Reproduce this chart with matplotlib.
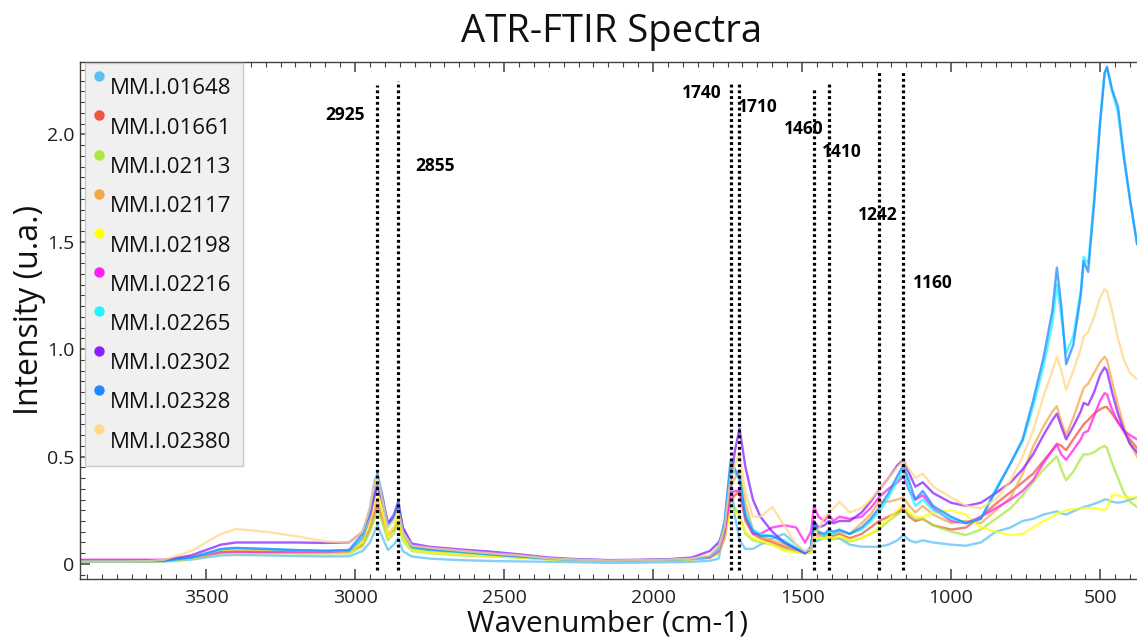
import matplotlib
matplotlib.use("Agg")
import matplotlib.pyplot as plt
from matplotlib.patches import Rectangle
from matplotlib.ticker import MultipleLocator, FixedLocator

plt.rcParams['font.family'] = ['Open Sans', 'DejaVu Sans']

# wavenumber grid (cm-1)
wavenumber = [3923, 3800, 3700, 3640, 3550,
              3450, 3400, 3300, 3200, 3100,
              3020, 2975, 2950, 2935, 2925,
              2910, 2890, 2870, 2855, 2840,
              2810, 2750, 2650, 2550, 2450,
              2350, 2250, 2150, 2050, 1950,
              1870, 1810, 1780, 1760, 1740,
              1725, 1710, 1690, 1665, 1640,
              1600, 1560, 1520, 1490, 1470,
              1460, 1445, 1425, 1410, 1395,
              1375, 1340, 1300, 1270, 1242,
              1210, 1180, 1160, 1140, 1120,
              1095, 1060, 1000, 950, 900,
              850, 800, 760, 725, 690,
              660, 645, 630, 614, 590,
              565, 555, 540, 520, 500,
              485, 477, 460, 440, 420,
              400, 376]

mm_01648 = [0.01, 0.01, 0.01, 0.011, 0.02,
            0.04, 0.042, 0.04, 0.037, 0.035,
            0.036, 0.06, 0.10, 0.15, 0.18,
            0.13, 0.065, 0.09, 0.12, 0.06,
            0.035, 0.025, 0.018, 0.014, 0.012,
            0.01, 0.008, 0.005, 0.006, 0.008,
            0.01, 0.015, 0.025, 0.15, 0.40,
            0.22, 0.11, 0.07, 0.07, 0.09,
            0.12, 0.14, 0.09, 0.055, 0.06,
            0.10, 0.11, 0.12, 0.12, 0.12,
            0.12, 0.09, 0.08, 0.08, 0.08,
            0.09, 0.11, 0.135, 0.11, 0.10,
            0.11, 0.10, 0.09, 0.085, 0.10,
            0.15, 0.17, 0.20, 0.21, 0.23,
            0.24, 0.245, 0.235, 0.23, 0.245,
            0.26, 0.265, 0.27, 0.28, 0.29,
            0.30, 0.30, 0.29, 0.285, 0.29,
            0.30, 0.31]

mm_01661 = [0.013, 0.013, 0.013, 0.015, 0.026,
            0.055, 0.058, 0.055, 0.055, 0.055,
            0.057, 0.09, 0.16, 0.23, 0.27,
            0.22, 0.13, 0.16, 0.20, 0.12,
            0.07, 0.06, 0.05, 0.04, 0.032,
            0.023, 0.018, 0.015, 0.016, 0.018,
            0.022, 0.03, 0.055, 0.12, 0.30,
            0.32, 0.34, 0.20, 0.14, 0.12,
            0.10, 0.08, 0.06, 0.05, 0.06,
            0.20, 0.14, 0.13, 0.13, 0.13,
            0.14, 0.12, 0.14, 0.17, 0.20,
            0.22, 0.24, 0.26, 0.22, 0.20,
            0.21, 0.18, 0.16, 0.17, 0.22,
            0.28, 0.335, 0.38, 0.42, 0.48,
            0.53, 0.56, 0.55, 0.53, 0.58,
            0.63, 0.65, 0.67, 0.70, 0.72,
            0.73, 0.73, 0.70, 0.66, 0.62,
            0.58, 0.54]

mm_02113 = [0.012, 0.012, 0.012, 0.013, 0.024,
            0.05, 0.05, 0.05, 0.049, 0.048,
            0.05, 0.08, 0.15, 0.21, 0.25,
            0.20, 0.11, 0.14, 0.19, 0.11,
            0.06, 0.05, 0.04, 0.035, 0.03,
            0.022, 0.018, 0.015, 0.016, 0.018,
            0.022, 0.028, 0.05, 0.12, 0.28,
            0.26, 0.23, 0.14, 0.11, 0.10,
            0.09, 0.07, 0.055, 0.05, 0.055,
            0.12, 0.12, 0.12, 0.12, 0.115,
            0.12, 0.105, 0.12, 0.14, 0.16,
            0.20, 0.23, 0.25, 0.23, 0.21,
            0.21, 0.18, 0.15, 0.135, 0.16,
            0.21, 0.26, 0.32, 0.38, 0.44,
            0.48, 0.50, 0.44, 0.39, 0.43,
            0.49, 0.51, 0.51, 0.52, 0.54,
            0.55, 0.54, 0.47, 0.40, 0.33,
            0.29, 0.265]

mm_02117 = [0.012, 0.012, 0.012, 0.014, 0.027,
            0.06, 0.065, 0.062, 0.06, 0.058,
            0.06, 0.10, 0.18, 0.26, 0.30,
            0.24, 0.14, 0.17, 0.22, 0.13,
            0.07, 0.06, 0.05, 0.04, 0.032,
            0.023, 0.018, 0.015, 0.016, 0.018,
            0.022, 0.03, 0.065, 0.14, 0.36,
            0.40, 0.44, 0.28, 0.16, 0.13,
            0.11, 0.09, 0.065, 0.05, 0.06,
            0.14, 0.13, 0.13, 0.14, 0.14,
            0.15, 0.14, 0.19, 0.23, 0.29,
            0.29, 0.30, 0.31, 0.27, 0.24,
            0.27, 0.23, 0.19, 0.20, 0.19,
            0.25, 0.31, 0.42, 0.545, 0.64,
            0.71, 0.735, 0.66, 0.60, 0.68,
            0.78, 0.82, 0.84, 0.89, 0.94,
            0.965, 0.95, 0.85, 0.74, 0.64,
            0.56, 0.50]

mm_02198 = [0.012, 0.012, 0.012, 0.014, 0.027,
            0.06, 0.063, 0.06, 0.057, 0.055,
            0.057, 0.10, 0.20, 0.30, 0.34,
            0.26, 0.13, 0.17, 0.22, 0.12,
            0.065, 0.055, 0.045, 0.038, 0.03,
            0.022, 0.018, 0.015, 0.016, 0.018,
            0.022, 0.03, 0.06, 0.13, 0.25,
            0.24, 0.22, 0.15, 0.12, 0.11,
            0.09, 0.06, 0.055, 0.05, 0.055,
            0.12, 0.12, 0.12, 0.13, 0.12,
            0.13, 0.11, 0.12, 0.14, 0.17,
            0.21, 0.25, 0.275, 0.24, 0.22,
            0.22, 0.24, 0.25, 0.23, 0.17,
            0.15, 0.135, 0.14, 0.17, 0.20,
            0.22, 0.235, 0.24, 0.25, 0.255,
            0.26, 0.26, 0.26, 0.26, 0.255,
            0.25, 0.26, 0.32, 0.32, 0.31,
            0.31, 0.31]

mm_02216 = [0.02, 0.02, 0.02, 0.02, 0.03,
            0.055, 0.057, 0.056, 0.056, 0.056,
            0.06, 0.12, 0.22, 0.32, 0.38,
            0.32, 0.19, 0.23, 0.29, 0.17,
            0.085, 0.072, 0.06, 0.05, 0.038,
            0.026, 0.02, 0.017, 0.018, 0.02,
            0.025, 0.03, 0.06, 0.14, 0.33,
            0.34, 0.34, 0.22, 0.14, 0.14,
            0.17, 0.18, 0.17, 0.10, 0.15,
            0.27, 0.22, 0.20, 0.23, 0.20,
            0.22, 0.21, 0.22, 0.26, 0.31,
            0.35, 0.38, 0.41, 0.34, 0.30,
            0.32, 0.26, 0.20, 0.19, 0.22,
            0.26, 0.30, 0.34, 0.39, 0.47,
            0.53, 0.555, 0.51, 0.485, 0.53,
            0.58, 0.61, 0.62, 0.69, 0.76,
            0.795, 0.79, 0.72, 0.66, 0.62,
            0.60, 0.58]

mm_02265 = [0.012, 0.012, 0.012, 0.014, 0.028,
            0.068, 0.073, 0.07, 0.064, 0.06,
            0.063, 0.12, 0.23, 0.33, 0.37,
            0.30, 0.17, 0.21, 0.27, 0.15,
            0.075, 0.065, 0.055, 0.045, 0.035,
            0.024, 0.019, 0.016, 0.017, 0.019,
            0.024, 0.032, 0.07, 0.18, 0.45,
            0.42, 0.40, 0.24, 0.16, 0.14,
            0.13, 0.11, 0.075, 0.05, 0.08,
            0.18, 0.15, 0.13, 0.15, 0.14,
            0.155, 0.14, 0.16, 0.20, 0.24,
            0.31, 0.39, 0.44, 0.34, 0.27,
            0.30, 0.25, 0.21, 0.19, 0.21,
            0.35, 0.47, 0.57, 0.73, 0.92,
            1.12, 1.30, 1.15, 0.98, 1.06,
            1.27, 1.43, 1.40, 1.70, 2.07,
            2.29, 2.31, 2.20, 2.10, 1.88,
            1.70, 1.49]

mm_02302 = [0.015, 0.015, 0.015, 0.018, 0.04,
            0.09, 0.10, 0.10, 0.10, 0.098,
            0.10, 0.15, 0.24, 0.32, 0.36,
            0.30, 0.19, 0.22, 0.27, 0.17,
            0.095, 0.08, 0.068, 0.058, 0.045,
            0.03, 0.022, 0.018, 0.019, 0.022,
            0.03, 0.06, 0.10, 0.16, 0.38,
            0.53, 0.63, 0.45, 0.30, 0.22,
            0.15, 0.10, 0.07, 0.05, 0.07,
            0.20, 0.17, 0.18, 0.20, 0.19,
            0.20, 0.20, 0.24, 0.29, 0.345,
            0.40, 0.46, 0.485, 0.42, 0.36,
            0.38, 0.33, 0.285, 0.27, 0.285,
            0.33, 0.38, 0.44, 0.51, 0.60,
            0.67, 0.70, 0.64, 0.58, 0.64,
            0.71, 0.75, 0.74, 0.80, 0.88,
            0.915, 0.90, 0.80, 0.70, 0.62,
            0.56, 0.52]

mm_02328 = [0.013, 0.013, 0.013, 0.015, 0.03,
            0.07, 0.075, 0.07, 0.065, 0.062,
            0.065, 0.14, 0.26, 0.38, 0.42,
            0.33, 0.18, 0.22, 0.29, 0.16,
            0.08, 0.068, 0.058, 0.045, 0.035,
            0.025, 0.02, 0.017, 0.018, 0.02,
            0.025, 0.035, 0.08, 0.20, 0.48,
            0.44, 0.40, 0.22, 0.15, 0.13,
            0.13, 0.10, 0.07, 0.05, 0.08,
            0.19, 0.15, 0.14, 0.16, 0.15,
            0.16, 0.14, 0.17, 0.21, 0.26,
            0.33, 0.41, 0.46, 0.38, 0.30,
            0.34, 0.27, 0.22, 0.19, 0.21,
            0.34, 0.47, 0.58, 0.76, 0.96,
            1.18, 1.38, 1.20, 0.93, 1.02,
            1.25, 1.41, 1.36, 1.68, 2.05,
            2.28, 2.315, 2.21, 2.13, 1.90,
            1.70, 1.49]

mm_02380 = [0.012, 0.012, 0.013, 0.02, 0.06,
            0.14, 0.163, 0.15, 0.13, 0.105,
            0.10, 0.15, 0.26, 0.38, 0.41,
            0.31, 0.17, 0.20, 0.25, 0.15,
            0.085, 0.075, 0.062, 0.05, 0.04,
            0.026, 0.02, 0.016, 0.018, 0.02,
            0.025, 0.04, 0.08, 0.17, 0.40,
            0.46, 0.52, 0.33, 0.22, 0.22,
            0.265, 0.18, 0.09, 0.06, 0.07,
            0.14, 0.16, 0.22, 0.24, 0.26,
            0.29, 0.24, 0.26, 0.30, 0.345,
            0.40, 0.45, 0.48, 0.44, 0.40,
            0.42, 0.36, 0.31, 0.27, 0.26,
            0.30, 0.39, 0.50, 0.62, 0.78,
            0.90, 0.965, 0.90, 0.81, 0.90,
            1.00, 1.06, 1.08, 1.15, 1.24,
            1.28, 1.27, 1.18, 1.05, 0.95,
            0.89, 0.86]

sample_names = ['MM.I.01648', 'MM.I.01661', 'MM.I.02113', 'MM.I.02117', 'MM.I.02198',
                'MM.I.02216', 'MM.I.02265', 'MM.I.02302', 'MM.I.02328', 'MM.I.02380']
sample_colors = ['#5bc0f5', '#ee5544', '#a8e840', '#f5a84a', '#ffff10',
                 '#ff20f0', '#20f5ff', '#8c20ff', '#2088ff', '#ffd888']
spectra = [mm_01648, mm_01661, mm_02113, mm_02117, mm_02198,
           mm_02216, mm_02265, mm_02302, mm_02328, mm_02380]

# marked bands: position, top of dotted line, label position
band_pos = [2925, 2855, 1740, 1710, 1460, 1410, 1242, 1160]
band_top = [2.23, 2.25, 2.24, 2.24, 2.22, 2.24, 2.29, 2.29]
band_label_x = [3034, 2732, 1836, 1648, 1493, 1366, 1245, 1060]
band_label_y = [2.09, 1.854, 2.194, 2.128, 2.026, 1.919, 1.626, 1.309]

W, H = 1137, 642
fig = plt.figure(figsize=(W / 100, H / 100), dpi=100)
ax = fig.add_axes([80 / W, (H - 579) / H, 1063 / W, 517 / H])

for vals, name, col in zip(spectra, sample_names, sample_colors):
    ax.plot(wavenumber, vals, color=col, lw=1.7, alpha=0.75, label=name)

for pos, top in zip(band_pos, band_top):
    ax.plot([pos, pos], [-0.03, top], color='black', lw=2.3,
            linestyle=(0, (0.9, 0.9)), zorder=5)
for lx, ly, pos in zip(band_label_x, band_label_y, band_pos):
    ax.text(lx, ly, str(pos), ha='center', va='center', fontsize=12.5,
            fontweight='bold', color='black', zorder=6)

ax.set_xlim(3923, 356)
ax.set_ylim(-0.07, 2.337)
ax.xaxis.set_major_locator(FixedLocator([3500, 3000, 2500, 2000, 1500, 1000, 500]))
ax.xaxis.set_minor_locator(MultipleLocator(50))
ax.yaxis.set_major_locator(FixedLocator([0, 0.5, 1.0, 1.5, 2.0]))
ax.yaxis.set_minor_locator(MultipleLocator(0.05))
ax.set_yticklabels(['0', '0.5', '1.0', '1.5', '2.0'])
ax.tick_params(which='both', direction='in', top=True, right=False,
               color='#404040', labelsize=14, labelcolor='#202020')
ax.tick_params(which='major', length=7, width=1.1)
ax.tick_params(which='minor', length=3.5, width=0.8)
ax.tick_params(axis='x', pad=7)
ax.tick_params(axis='y', pad=4)
for sp in ax.spines.values():
    sp.set_color('#404040')
    sp.set_linewidth(1.0)

# legend box, drawn by hand to match the dot-above-label layout
def px2ax(px, py):
    return (px - 80) / 1063, (579 - py) / 517

x0, y0 = px2ax(85, 466)
x1, y1 = px2ax(243, 63)
ax.add_patch(Rectangle((x0, y0), x1 - x0, y1 - y0, transform=ax.transAxes,
                       facecolor='#f0f0f0', edgecolor='#c8c8c8', lw=1.0, zorder=7))
for i, (name, col) in enumerate(zip(sample_names, sample_colors)):
    mx, my = px2ax(99, 76 + 39.25 * i)
    tx, ty = px2ax(110, 89 + 39.25 * i)
    ax.plot([mx], [my], 'o', ms=7.5, color=col, mec='none',
            transform=ax.transAxes, zorder=8, clip_on=False)
    ax.text(tx, ty, name, transform=ax.transAxes, ha='left', va='center',
            fontsize=16, color='#101010', zorder=8)

fig.text(612 / W, 1 - 32 / H, 'ATR-FTIR Spectra', ha='center', va='center',
         fontsize=27.5, color='#101010')
fig.text(608 / W, 1 - 624 / H, 'Wavenumber (cm-1)', ha='center', va='center',
         fontsize=21.5, color='#101010')
fig.text(30 / W, 1 - 310 / H, 'Intensity (u.a.)', ha='center', va='center',
         rotation=90, fontsize=23, color='#101010')

fig.savefig('out.png', dpi=100)
